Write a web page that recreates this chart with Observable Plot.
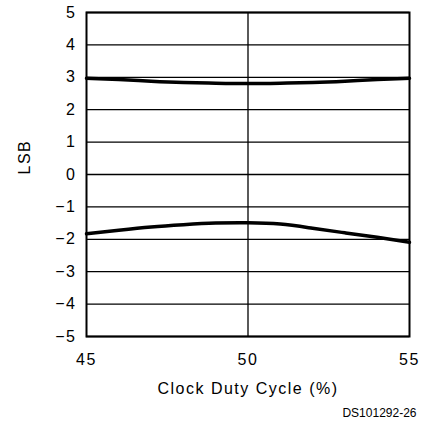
<!DOCTYPE html>
<html><head><meta charset="utf-8">
<script src="https://cdn.jsdelivr.net/npm/d3@7"></script>
<script src="https://cdn.jsdelivr.net/npm/@observablehq/plot@0.6"></script>
<style>
body{margin:0;background:#fff;}
svg{font-family:"Liberation Sans",Arial,sans-serif;}
</style>
</head><body><div id="chart"></div>
<script>
const duty = [45, 46, 47, 48, 49, 50, 51, 52, 53, 54, 55];
const upperLSB = [2.97, 2.93, 2.88, 2.84, 2.82, 2.81, 2.82, 2.84, 2.88, 2.93, 2.97];
const lowerLSB = [-1.83, -1.72, -1.62, -1.55, -1.50, -1.49, -1.53, -1.66, -1.80, -1.94, -2.09];
const yTicks = [-5, -4, -3, -2, -1, 0, 1, 2, 3, 4, 5];
const xTicks = [45, 50, 55];
const xGrid = [50];
const xLabel = "Clock Duty Cycle (%)";
const yLabel = "LSB";
const note = "DS101292-26";

const upper = duty.map((d, i) => ({x: d, y: upperLSB[i]}));
const lower = duty.map((d, i) => ({x: d, y: lowerLSB[i]}));

const chart = Plot.plot({
  width: 425,
  height: 425,
  marginLeft: 86,
  marginRight: 16,
  marginTop: 12,
  marginBottom: 89,
  style: {fontSize: "16px", fontFamily: "'Liberation Sans', Arial, sans-serif", color: "#000", background: "#fff"},
  x: {domain: [45, 55], ticks: xTicks, tickSize: 0, tickPadding: 17, label: null},
  y: {domain: [-5, 5], ticks: yTicks, tickSize: 0, tickPadding: 10, label: null, tickFormat: d => d < 0 ? "\u2212" + Math.abs(d) : String(d)},
  marks: [
    Plot.ruleY(yTicks, {stroke: "#000", strokeWidth: 1.3}),
    Plot.ruleX(xGrid, {stroke: "#000", strokeWidth: 1.3}),
    Plot.frame({stroke: "#000", strokeWidth: 2}),
    Plot.line(upper, {x: "x", y: "y", curve: "natural", stroke: "#000", strokeWidth: 3.5}),
    Plot.line(lower, {x: "x", y: "y", curve: "natural", stroke: "#000", strokeWidth: 3.5}),
    Plot.text([xLabel], {frameAnchor: "bottom", dy: 52, lineAnchor: "middle", fontSize: 16, text: d => d}),
    Plot.text([yLabel], {frameAnchor: "left", dx: -62, rotate: -90, lineAnchor: "middle", fontSize: 16, text: d => d}),
    Plot.text([note], {frameAnchor: "bottom-right", dy: 77, dx: 7, lineAnchor: "middle", textAnchor: "end", fontSize: 12, text: d => d})
  ]
});
document.getElementById("chart").appendChild(chart);
d3.select(chart).selectAll("text").filter(function(){ return this.textContent !== note; }).style("letter-spacing", "1.5px");
</script>
</body></html>
